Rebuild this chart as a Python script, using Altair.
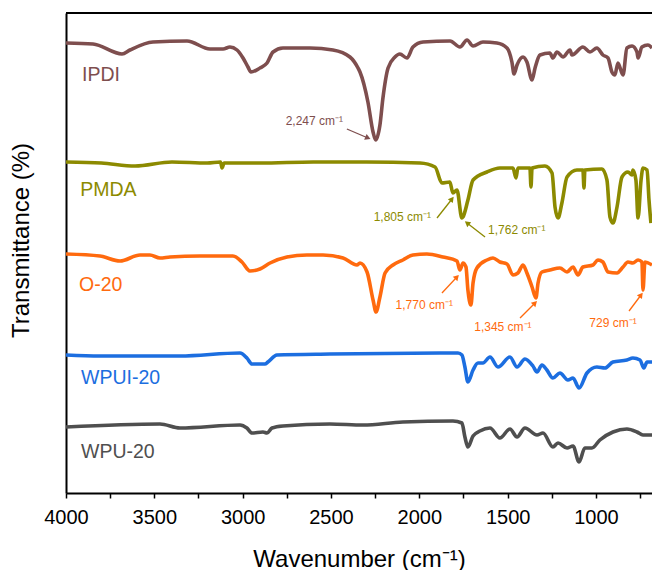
import math
import altair as alt
import pandas as pd

# ---------------- data (wavenumber cm-1, transmittance in arbitrary offset units) -------------
ipdi_wn = [4000, 3847, 3683, 3638, 3508, 3315, 3185, 3111, 3072, 3032, 2998, 2970, 2953, 2902, 2862,
           2828, 2772, 2619, 2489, 2393, 2347, 2336, 2291, 2262, 2247, 2223, 2206, 2177, 2138, 2110,
           2070, 2036, 1979, 1826, 1770, 1730, 1696, 1640, 1561, 1504, 1476, 1464, 1447, 1413, 1391,
           1362, 1345, 1317, 1261, 1244, 1221, 1187, 1147, 1136, 1074, 1034, 995, 961, 932, 910,
           893, 876, 847, 825, 796, 768, 762, 740, 706, 683]
ipdi_t = [450, 449, 439, 443, 451, 452, 444, 444, 446, 443, 435, 426, 421, 425, 430,
          441, 445, 445, 443, 436, 425, 421, 391, 361, 353, 368, 395, 425, 436, 439,
          435, 446, 451, 452, 446, 453, 447, 451, 450, 445, 431, 419, 428, 436, 431,
          413, 425, 438, 440, 435, 441, 436, 443, 438, 446, 441, 445, 438, 435, 421,
          418, 430, 418, 445, 447, 441, 435, 446, 448, 445]

pmda_wn = [4000, 3800, 3609, 3400, 3200, 3125, 3117, 3105, 2900, 2600, 2300, 1996, 1911, 1872, 1827,
           1810, 1787, 1759, 1753, 1725, 1696, 1617, 1544, 1470, 1453, 1442, 1374, 1368, 1362, 1289,
           1249, 1232, 1215, 1193, 1164, 1108, 1074, 1068, 1063, 966, 938, 921, 904, 881, 853,
           819, 796, 791, 774, 762, 745, 734, 711, 700, 689]
pmda_t = [331, 330, 327, 331, 330, 331, 325, 330, 330, 331, 331, 330, 326, 310, 311,
          300, 303, 275, 276, 293, 313, 321, 325, 325, 315, 325, 325, 306, 325, 327,
          320, 286, 275, 290, 316, 323, 323, 305, 323, 324, 313, 276, 270, 286, 316,
          321, 318, 323, 313, 275, 313, 325, 323, 293, 270]

o20_wn = [4000, 3808, 3694, 3581, 3525, 3468, 3411, 3242, 3055, 3004, 2959, 2902, 2845, 2749, 2636,
          2545, 2432, 2353, 2336, 2296, 2262, 2245, 2223, 2194, 2149, 2093, 2036, 1957, 1866, 1787,
          1770, 1753, 1736, 1725, 1708, 1696, 1674, 1617, 1583, 1544, 1504, 1470, 1442, 1413, 1391,
          1362, 1340, 1328, 1306, 1261, 1204, 1164, 1130, 1102, 1074, 1017, 989, 961, 932, 881,
          847, 819, 791, 762, 740, 734, 723, 683]
o20_t = [239, 237, 232, 238, 238, 235, 236, 237, 237, 231, 222, 224, 230, 236, 238,
         238, 235, 228, 230, 221, 193, 181, 196, 220, 228, 233, 238, 239, 236, 232,
         223, 230, 226, 203, 188, 210, 225, 233, 235, 231, 229, 218, 220, 228, 220,
         206, 195, 210, 221, 223, 225, 221, 226, 218, 226, 228, 233, 231, 221, 220,
         226, 231, 230, 233, 231, 203, 231, 228]

wpui_wn = [4000, 3808, 3355, 3015, 2976, 2947, 2874, 2857, 2806, 2506, 1883, 1781, 1759, 1742, 1725,
           1696, 1668, 1640, 1600, 1555, 1487, 1447, 1402, 1357, 1334, 1306, 1278, 1244, 1204, 1159,
           1130, 1096, 1051, 995, 949, 904, 825, 791, 751, 729, 711, 683]
wpui_t = [138, 137, 137, 140, 135, 129, 129, 131, 138, 139, 140, 140, 138, 126, 111,
          123, 130, 130, 136, 126, 136, 126, 134, 127, 121, 128, 123, 115, 120, 113,
          115, 105, 120, 126, 125, 131, 133, 135, 133, 125, 131, 131]

wpu_wn = [4000, 3468, 3355, 3015, 2976, 2947, 2885, 2862, 2834, 2772, 2506, 2319, 2093, 1810, 1759,
          1742, 1725, 1696, 1657, 1600, 1544, 1487, 1447, 1402, 1334, 1300, 1244, 1215, 1164, 1130,
          1096, 1063, 1023, 978, 904, 825, 768, 734, 683]
wpu_t = [66, 69, 65, 68, 65, 60, 61, 60, 65, 67, 69, 68, 71, 72, 70,
         56, 46, 57, 62, 65, 55, 64, 56, 65, 58, 60, 46, 50, 45, 47,
         31, 45, 45, 53, 61, 64, 61, 58, 58]

series_names = ["IPDI", "PMDA", "O-20", "WPUI-20", "WPU-20"]
series_colors = ["#7E4E4E", "#8C8A00", "#FF6A0E", "#1C6EE0", "#4F4F4F"]

# series label positions
label_wn = [3909, 3920, 3926, 3915, 3915]
label_t = [418, 303, 208, 115, 41]

# annotations
ann_text = ["2,247 cm\u207b\u00b9", "1,805 cm\u207b\u00b9", "1,762 cm\u207b\u00b9",
            "1,770 cm\u207b\u00b9", "1,345 cm\u207b\u00b9", "729 cm\u207b\u00b9"]
ann_series = ["IPDI", "PMDA", "PMDA", "O-20", "O-20", "O-20"]
ann_wn = [2432, 1934, 1611, 1810, 1527, 904]
ann_t = [372, 276, 263, 188, 166, 170]
ann_align = ["right", "right", "left", "right", "center", "center"]
arrow_wn1 = [2410, 1900, 1628, 1872, 1430, 813]
arrow_t1 = [364, 275, 256, 200, 175, 182]
arrow_wn2 = [2291, 1815, 1730, 1787, 1345, 745]
arrow_t2 = [355, 294, 270, 216, 190, 198]

x_ticks = [4000, 3750, 3500, 3250, 3000, 2750, 2500, 2250, 2000, 1750, 1500, 1250, 1000, 750]

# ---------------- build tables ----------------
W, H = 586, 480
X_DOM = [4000, 683]
Y_DOM = [0, 480]

rows = []
for name, wn, t in [("IPDI", ipdi_wn, ipdi_t), ("PMDA", pmda_wn, pmda_t), ("O-20", o20_wn, o20_t),
                    ("WPUI-20", wpui_wn, wpui_t), ("WPU-20", wpu_wn, wpu_t)]:
    for a, b in zip(wn, t):
        rows.append({"series": name, "wn": a, "t": b})
spectra = pd.DataFrame(rows)

labels = pd.DataFrame({"series": series_names, "wn": label_wn, "t": label_t})

sx = W / (X_DOM[0] - X_DOM[1])
sy = H / (Y_DOM[1] - Y_DOM[0])
angles = []
for a1, b1, a2, b2 in zip(arrow_wn1, arrow_t1, arrow_wn2, arrow_t2):
    dx = (a1 - a2) * sx
    dy = (b2 - b1) * sy
    angles.append(math.degrees(math.atan2(dx, dy)) % 360)

ann = pd.DataFrame({"series": ann_series, "text": ann_text, "wn": ann_wn, "t": ann_t,
                    "align": ann_align, "wn1": arrow_wn1, "t1": arrow_t1,
                    "wn2": arrow_wn2, "t2": arrow_t2, "angle": angles})

FONT = "Liberation Sans"

color_scale = alt.Scale(domain=series_names, range=series_colors)
xs = alt.Scale(domain=X_DOM, nice=False, zero=False)
ys = alt.Scale(domain=Y_DOM, nice=False, zero=False)

x_axis = alt.Axis(title="Wavenumber (cm\u207b\u00b9)", values=x_ticks,
                  labelExpr="datum.value % 500 == 0 ? '' + datum.value : ''",
                  grid=False, tickSize=5, tickWidth=1.5, tickColor="black",
                  domainColor="black", domainWidth=2, labelFontSize=20, labelColor="black",
                  labelFont=FONT, labelPadding=9, titleFont=FONT, titleFontSize=24,
                  titleFontWeight="normal", titleColor="black", titleBaseline="alphabetic",
                  titleY=73, labelFlush=False, labelOverlap=False)
y_axis = alt.Axis(title="Transmittance (%)", labels=False, ticks=False, grid=False,
                  domainColor="black", domainWidth=2, titleFont=FONT, titleFontSize=24,
                  titleFontWeight="normal", titleColor="black", titleX=-33, titleY=227,
                  titleAngle=270, titleBaseline="bottom", titleAlign="center")

lines = alt.Chart(spectra).mark_line(strokeWidth=3.6, strokeJoin="round", clip=True,
                                     interpolate="monotone").encode(
    x=alt.X("wn:Q", scale=xs, axis=x_axis),
    y=alt.Y("t:Q", scale=ys, axis=y_axis),
    color=alt.Color("series:N", scale=color_scale, legend=None),
    detail="series:N",
    order="wn:Q",
)

top_rule = alt.Chart(pd.DataFrame({"t": [Y_DOM[1]]})).mark_rule(color="black", strokeWidth=2).encode(
    y=alt.Y("t:Q", scale=ys)
)

series_text = alt.Chart(labels).mark_text(align="left", baseline="middle", fontSize=19.5,
                                          font=FONT).encode(
    x=alt.X("wn:Q", scale=xs), y=alt.Y("t:Q", scale=ys),
    text="series:N", color=alt.Color("series:N", scale=color_scale, legend=None))

ann_layers = []
for al in ["left", "right", "center"]:
    ann_layers.append(
        alt.Chart(ann).transform_filter(alt.datum.align == al).mark_text(
            align=al, baseline="middle", fontSize=12, font=FONT).encode(
            x=alt.X("wn:Q", scale=xs), y=alt.Y("t:Q", scale=ys), text="text:N",
            color=alt.Color("series:N", scale=color_scale, legend=None)))

arrow_lines = alt.Chart(ann).mark_rule(strokeWidth=1.3).encode(
    x=alt.X("wn1:Q", scale=xs), y=alt.Y("t1:Q", scale=ys),
    x2="wn2:Q", y2="t2:Q",
    color=alt.Color("series:N", scale=color_scale, legend=None))

arrow_heads = alt.Chart(ann).mark_point(shape="triangle-up", filled=True, size=40, opacity=1).encode(
    x=alt.X("wn2:Q", scale=xs), y=alt.Y("t2:Q", scale=ys),
    angle=alt.Angle("angle:Q", scale=None),
    color=alt.Color("series:N", scale=color_scale, legend=None))

chart = alt.layer(lines, top_rule, series_text, *ann_layers, arrow_lines, arrow_heads).properties(
    width=W, height=H,
    autosize=alt.AutoSizeParams(type="none"),
    padding={"left": 66, "top": 13, "right": 0, "bottom": 77},
).configure_view(stroke=None).configure(background="white")

chart.save("out.html", embed_options={"renderer": "svg", "actions": False})
